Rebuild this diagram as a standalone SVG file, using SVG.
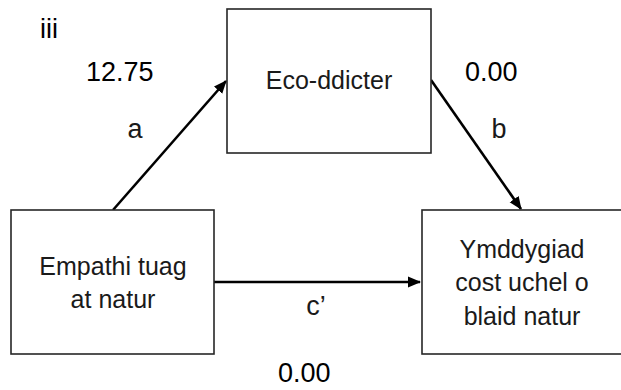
<svg xmlns="http://www.w3.org/2000/svg" width="621" height="390" viewBox="0 0 621 390">
<style>
.box{fill:#fff;stroke:#262626;stroke-width:1.6}
.t{font-family:"Liberation Sans",Arial,sans-serif;font-size:25px;fill:#1a1a1a;text-anchor:middle}
.l{font-family:"Liberation Sans",Arial,sans-serif;font-size:27px;fill:#1a1a1a;text-anchor:middle}
.n{font-family:"Liberation Sans",Arial,sans-serif;font-size:27px;fill:#000}
.c{stroke:#000;stroke-width:2.6;fill:none;marker-end:url(#ah)}
</style>
<defs>
<marker id="ah" markerWidth="14" markerHeight="12" refX="12" refY="6" orient="auto" markerUnits="userSpaceOnUse" viewBox="0 0 14 12">
<path d="M0,0.5 L13,6 L0,11.5 Z" fill="#000"/>
</marker>
</defs>
<rect width="621" height="390" fill="#fff"/>
<g id="connectors">
<line class="c" x1="113" y1="210" x2="226" y2="81"/>
<line class="c" x1="431" y1="80" x2="521" y2="209"/>
<line class="c" x1="214" y1="282" x2="420" y2="282"/>
</g>
<g id="node-eco">
<rect class="box" x="227" y="9" width="204" height="144"/>
<text class="t" x="329" y="89">Eco-ddicter</text>
</g>
<g id="node-empathi">
<rect class="box" x="11" y="210" width="203" height="144"/>
<text class="t" x="113" y="275">Empathi tuag</text>
<text class="t" x="113" y="308">at natur</text>
</g>
<g id="node-ymddygiad">
<rect class="box" x="422" y="210" width="210" height="144"/>
<text class="t" x="522" y="258">Ymddygiad</text>
<text class="t" x="522" y="291">cost uchel o</text>
<text class="t" x="522" y="325">blaid natur</text>
</g>
<g id="labels">
<text class="n" x="40" y="38">iii</text>
<text class="n" x="86" y="81">12.75</text>
<text class="n" x="465" y="81">0.00</text>
<text class="l" x="135" y="138">a</text>
<text class="l" x="499" y="138">b</text>
<text class="l" x="316" y="315">c’</text>
<text class="n" x="278" y="382">0.00</text>
</g>
</svg>
